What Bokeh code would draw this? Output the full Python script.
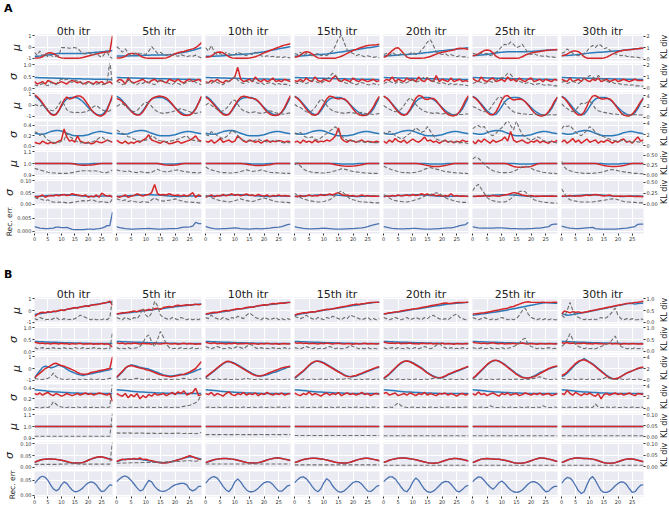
from bokeh.plotting import figure
from bokeh.layouts import gridplot, column, row
from bokeh.models import Range1d, LinearAxis, FixedTicker, Div, PrintfTickFormatter
from bokeh.embed import file_html
from bokeh.resources import INLINE

ITERS = ["0th itr", "5th itr", "10th itr", "15th itr", "20th itr", "25th itr", "30th itr"]
X = list(range(30))
XTICKS = [0, 5, 10, 15, 20, 25]
ROW_LABELS = ["μ", "σ", "μ", "σ", "μ", "σ", "Rec. err."]
RIGHT_LABEL = "KL div"

# ---------------- Panel A ----------------
A1_BLUE = [
 [-.8,-.8,-.79,-.77,-.74,-.7,-.66,-.62,-.59,-.57,-.56,-.55,-.55,-.55,-.56,-.56,-.56,-.56,-.55,-.54,-.52,-.5,-.48,-.45,-.43,-.4,-.38,-.35,-.33,-.3],
 [-.78,-.78,-.78,-.78,-.78,-.77,-.76,-.75,-.74,-.73,-.72,-.71,-.7,-.7,-.7,-.7,-.7,-.69,-.67,-.64,-.6,-.55,-.5,-.45,-.4,-.34,-.28,-.2,-.12,-.05],
 [-.8,-.8,-.8,-.8,-.79,-.78,-.76,-.74,-.72,-.7,-.68,-.66,-.64,-.62,-.6,-.58,-.55,-.52,-.48,-.44,-.4,-.35,-.3,-.25,-.2,-.15,-.1,-.05,0,.05],
 [-.8,-.79,-.78,-.76,-.74,-.72,-.7,-.68,-.66,-.64,-.62,-.6,-.57,-.54,-.5,-.46,-.42,-.38,-.34,-.3,-.26,-.22,-.18,-.14,-.1,-.06,-.02,.02,.06,.1],
 [-.78,-.77,-.76,-.74,-.72,-.7,-.68,-.66,-.64,-.62,-.6,-.58,-.56,-.53,-.5,-.47,-.44,-.41,-.38,-.35,-.32,-.29,-.26,-.23,-.2,-.17,-.14,-.11,-.08,-.05],
 [-.75,-.74,-.72,-.7,-.67,-.64,-.6,-.56,-.52,-.48,-.45,-.42,-.4,-.4,-.4,-.4,-.4,-.4,-.4,-.39,-.38,-.36,-.34,-.32,-.3,-.28,-.26,-.25,-.24,-.23],
 [-.75,-.74,-.73,-.72,-.7,-.68,-.65,-.62,-.58,-.55,-.52,-.5,-.48,-.46,-.44,-.42,-.4,-.38,-.36,-.34,-.32,-.3,-.27,-.24,-.21,-.18,-.15,-.13,-.11,-.1],
]
A1_RED = [
 [-.95,-.95,-.93,-.85,-.65,-.52,-.5,-.55,-.7,-.88,-.95,-.97,-.97,-.97,-.97,-.97,-.97,-.96,-.92,-.85,-.78,-.72,-.66,-.6,-.55,-.5,-.45,-.42,-.4,1.0],
 [-.95,-.95,-.92,-.8,-.62,-.55,-.55,-.6,-.75,-.9,-.96,-.97,-.97,-.97,-.97,-.97,-.97,-.95,-.85,-.7,-.58,-.5,-.42,-.38,-.3,-.22,-.15,-.05,.15,.4],
 [-.9,-.88,-.8,-.6,-.45,-.42,-.5,-.65,-.85,-.95,-.97,-.97,-.97,-.97,-.97,-.96,-.92,-.85,-.75,-.62,-.5,-.4,-.3,-.2,-.1,0,.1,.18,.24,.3],
 [-.9,-.85,-.7,-.5,-.4,-.45,-.6,-.8,-.95,-.97,-.97,-.97,-.97,-.97,-.97,-.9,-.8,-.68,-.55,-.42,-.3,-.2,-.1,0,.08,.14,.18,.2,.22,.25],
 [-.9,-.8,-.55,-.3,-.1,-.05,-.3,-.6,-.88,-.97,-.97,-.97,-.97,-.97,-.95,-.9,-.82,-.72,-.62,-.52,-.45,-.4,-.35,-.3,-.25,-.15,-.1,-.12,-.15,-.2],
 [-.75,-.72,-.6,-.45,-.3,-.25,-.3,-.5,-.8,-.95,-.98,-.98,-.98,-.98,-.98,-.98,-.95,-.85,-.7,-.6,-.52,-.46,-.42,-.38,-.34,-.3,-.27,-.24,-.22,-.2],
 [-.75,-.72,-.62,-.45,-.35,-.33,-.4,-.6,-.85,-.97,-.98,-.98,-.98,-.98,-.98,-.96,-.88,-.75,-.62,-.5,-.4,-.33,-.28,-.25,-.22,-.2,-.17,-.13,-.1,-.1],
]
A1_KL = [
 [.6,.35,.7,.3,.5,.2,.35,.2,.25,.3,1.0,1.0,1.0,.95,1.0,1.0,.95,.7,.5,.45,.6,.45,.35,.55,.3,.15,.45,.6,.2,.05],
 [1.1,.9,.6,.9,.5,.3,.4,.6,.45,.5,.4,.7,1.1,.8,.5,.6,.4,.3,.5,.35,.3,.25,.4,.3,.2,.3,.25,.35,.2,.1],
 [1.0,.7,1.2,.6,.4,.5,.3,.6,.5,.3,.4,.6,.5,.4,.3,.5,.4,.6,.5,.3,.2,.3,.2,.25,.15,.2,.1,.2,.15,.1],
 [.5,.4,.6,.3,.5,.4,.3,.4,.5,.3,.4,.3,.5,.7,1.2,1.8,2.1,1.4,.8,.6,.5,.3,.4,.3,.2,.3,.2,.15,.2,.1],
 [.4,.5,.3,.6,.4,.3,.5,.4,.3,.5,.6,.4,.5,.8,1.1,1.5,1.7,1.2,.6,.5,.4,.5,.3,.4,.3,.2,.3,.2,.2,.1],
 [.5,.45,.4,.5,.45,.5,.3,.4,.6,.8,1.1,1.3,1.2,1.5,1.3,1.0,1.1,1.3,.9,.5,.4,.5,.35,.3,.25,.3,.2,.2,.15,.15],
 [.5,.6,.9,.7,.5,.4,.3,.4,.5,.7,1.0,1.2,1.0,1.3,1.2,.9,1.0,.8,.6,.45,.4,.3,.35,.25,.2,.2,.15,.15,.1,.1],
]
A2_BLUE = [.47,.47,.46,.46,.46,.45,.45,.45,.44,.44,.44,.43,.43,.43,.42,.42,.42,.42,.41,.41,.41,.41,.4,.4,.4,.4,.4,.39,.39,.39]
A2_RED = [
 [.3,.2,.25,.3,.2,.35,.3,.25,.2,.25,.3,.25,.2,.3,.35,.3,.25,.3,.2,.25,.3,.25,.2,.3,.25,.3,.2,.25,.3,.2],
 [.3,.4,.35,.2,.45,.3,.25,.3,.35,.4,.3,.25,.35,.4,.3,.35,.3,.25,.4,.35,.3,.4,.3,.25,.35,.4,.3,.35,.4,.3],
 [.3,.25,.35,.3,.4,.3,.25,.35,.3,.4,.5,.9,.4,.3,.35,.4,.3,.5,.35,.3,.4,.3,.35,.45,.3,.35,.3,.4,.35,.3],
 [.35,.3,.4,.3,.45,.35,.3,.5,.35,.3,.4,.35,.3,.45,.55,.35,.3,.4,.35,.3,.45,.35,.3,.4,.35,.3,.35,.4,.3,.35],
 [.3,.4,.35,.5,.3,.4,.35,.3,.45,.35,.4,.3,.5,.35,.3,.45,.35,.3,.55,.3,.4,.35,.3,.45,.3,.35,.4,.3,.35,.3],
 [.45,.35,.3,.5,.35,.3,.4,.45,.3,.35,.4,.3,.5,.35,.4,.3,.45,.35,.3,.4,.45,.3,.35,.4,.3,.4,.35,.3,.4,.35],
 [.4,.35,.3,.45,.3,.35,.4,.3,.45,.35,.3,.4,.35,.45,.3,.35,.4,.3,.35,.4,.3,.35,.4,.35,.3,.35,.4,.35,.35,.35],
]
A2_KL = [
 [.3,.2,.3,.4,.3,.2,.5,.4,.3,.6,.8,.7,.8,.6,.5,.7,.6,.5,.4,.3,.5,.4,.3,.35,.4,.3,.35,.5,2.3,.3],
 [.6,.5,.3,.4,.7,.5,.4,.3,.5,.4,.6,.5,.4,.3,.5,.8,.6,.5,.4,.3,.5,.4,.3,.4,.5,.6,.7,.5,.4,.3],
 [.4,.5,.4,.6,.5,.4,.3,.5,.6,.8,1.0,.7,.5,.4,.6,.5,.7,.5,.4,.5,.3,.4,.5,.4,.3,.4,.3,.35,.3,.2],
 [.5,.4,.6,.5,.4,.5,.7,.6,.5,.4,.6,.8,1.0,1.3,1.1,.8,.6,.5,.4,.5,.4,.3,.4,.5,.4,.3,.3,.4,.3,.3],
 [.4,.5,.6,.5,.4,.6,.5,.4,.5,.6,.7,.5,.6,.8,1.0,.9,.7,.6,.5,.4,.5,.4,.3,.4,.3,.35,.3,.3,.25,.2],
 [.4,.5,.6,.5,.4,.5,.6,.5,.7,.8,.9,1.0,1.3,1.2,.9,.7,.6,.5,.4,.5,.4,.3,.35,.4,.3,.25,.3,.25,.2,.2],
 [.5,.6,.4,.5,.6,.5,.4,.6,.8,.9,1.1,1.0,.8,1.1,.9,.7,.6,.5,.5,.4,.4,.35,.3,.3,.25,.3,.2,.2,.2,.15],
]
A3_BLUE = [.8,.65,.4,.1,-.2,-.5,-.72,-.85,-.8,-.5,-.1,.3,.55,.65,.68,.68,.65,.5,.3,.05,-.2,-.45,-.65,-.8,-.88,-.85,-.65,-.3,.2,.7]
A3_RED = [
 [.9,.75,.5,.2,-.15,-.5,-.78,-.9,-.82,-.5,0,.45,.72,.55,.6,.75,.82,.8,.65,.35,0,-.35,-.65,-.85,-.95,-.95,-.8,-.45,.2,.9],
 [.6,.5,.3,.05,-.25,-.55,-.78,-.88,-.85,-.6,-.2,.25,.55,.7,.78,.8,.75,.62,.4,.1,-.25,-.55,-.78,-.9,-.92,-.88,-.7,-.35,.2,.8],
 [.7,.55,.3,0,-.3,-.6,-.82,-.9,-.8,-.45,0,.4,.7,.8,.75,.65,.6,.55,.35,.05,-.3,-.6,-.8,-.9,-.92,-.85,-.6,-.2,.35,.85],
 [.75,.6,.35,0,-.35,-.65,-.85,-.9,-.75,-.35,.1,.55,.8,.75,.6,.55,.6,.55,.35,0,-.35,-.65,-.85,-.92,-.92,-.8,-.5,-.1,.4,.8],
 [.8,.65,.4,.05,-.3,-.6,-.82,-.9,-.78,-.4,.1,.6,.85,.8,.55,.5,.6,.6,.4,.05,-.3,-.6,-.82,-.92,-.95,-.85,-.55,-.1,.45,.85],
 [.75,.6,.35,0,-.35,-.65,-.85,-.85,-.6,-.1,.45,.8,.85,.6,.45,.5,.55,.5,.3,0,-.35,-.65,-.85,-.95,-.95,-.85,-.55,-.15,.35,.7],
 [.75,.6,.3,-.05,-.4,-.7,-.88,-.88,-.6,-.1,.45,.8,.85,.7,.55,.55,.6,.55,.35,0,-.35,-.65,-.88,-.95,-.95,-.8,-.5,-.1,.3,.6],
]
A3_KL = [
 [2.4,2.2,2.0,2.3,1.8,1.5,1.3,1.2,1.6,2.4,3.0,2.4,1.4,1.0,.9,.8,.9,.8,.9,1.0,1.2,1.6,2.0,2.2,1.8,1.4,1.2,1.0,1.2,1.6],
 [2.0,2.3,2.5,2.1,1.6,1.2,1.0,1.2,1.8,2.4,2.8,2.6,2.0,1.4,1.0,.8,.7,.8,.9,1.0,1.2,1.4,1.6,1.4,1.2,1.0,.8,.7,.8,1.0],
 [2.2,2.6,2.2,1.8,1.4,1.0,1.2,1.6,2.2,3.0,3.2,2.4,1.6,1.2,1.0,.8,.9,1.0,.8,.7,.8,1.0,1.2,1.0,.8,.7,.6,.6,.7,.8],
 [2.4,2.0,1.8,1.4,1.0,.9,1.2,1.8,2.6,3.4,3.0,2.2,1.6,1.2,1.0,.9,.8,.7,.8,.9,.8,.7,.8,.9,.7,.6,.6,.5,.6,.7],
 [2.2,1.8,1.5,1.2,1.0,1.1,1.5,2.2,3.0,3.6,3.2,2.4,1.8,1.4,1.1,.9,.8,.7,.8,.7,.6,.7,.8,.6,.5,.6,.5,.5,.6,.6],
 [2.0,1.8,1.5,1.2,1.0,1.1,1.6,2.4,3.2,3.8,3.6,2.6,2.0,1.4,1.0,.8,.7,.6,.6,.5,.5,.6,.5,.4,.5,.4,.4,.5,.4,.5],
 [2.5,2.0,1.6,1.2,1.0,1.3,2.0,2.6,2.4,2.8,3.0,2.4,1.6,1.2,1.0,.9,.8,.7,.6,.6,.5,.5,.6,.5,.4,.4,.5,.4,.4,.4],
]
A4_BLUE = [.25,.24,.23,.23,.24,.26,.28,.29,.3,.3,.29,.27,.25,.23,.21,.2,.2,.2,.2,.21,.22,.24,.26,.27,.28,.28,.27,.26,.25,.24]
A4_RED = [
 [.08,.06,.05,.1,.07,.05,.08,.06,.07,.1,.12,.33,.18,.1,.12,.08,.2,.1,.08,.06,.08,.05,.06,.1,.08,.07,.09,.12,.1,.08],
 [.12,.08,.06,.1,.05,.08,.06,.1,.08,.12,.15,.22,.12,.1,.08,.06,.1,.08,.05,.06,.08,.1,.06,.08,.1,.12,.15,.2,.12,.1],
 [.1,.08,.12,.06,.1,.15,.08,.1,.12,.08,.1,.2,.15,.1,.08,.12,.1,.08,.1,.06,.1,.12,.08,.1,.09,.11,.1,.08,.1,.09],
 [.08,.1,.06,.12,.08,.1,.07,.12,.08,.1,.09,.12,.1,.14,.2,.35,.15,.1,.08,.12,.1,.08,.1,.12,.08,.1,.09,.08,.1,.08],
 [.1,.06,.12,.08,.15,.1,.08,.12,.06,.1,.14,.1,.08,.12,.18,.1,.12,.08,.1,.06,.09,.12,.08,.1,.07,.1,.08,.12,.09,.1],
 [.1,.05,.12,.08,.14,.1,.06,.12,.08,.1,.12,.18,.1,.28,.12,.08,.1,.12,.08,.06,.1,.08,.12,.07,.1,.08,.06,.1,.08,.12],
 [.08,.12,.06,.1,.15,.08,.12,.06,.1,.14,.08,.1,.12,.06,.1,.08,.12,.1,.06,.1,.08,.12,.14,.08,.1,.06,.12,.18,.1,.12],
]
A4_KL = [
 [2.5,2.3,1.8,2.2,1.5,1.0,.8,.6,.5,.6,.8,1.0,2.2,1.6,1.4,1.0,.7,.5,.6,.4,.5,.6,.8,1.0,1.4,1.6,1.2,1.0,.8,.6],
 [2.8,2.5,2.2,2.0,1.6,1.5,1.2,1.0,.8,.9,1.0,1.2,1.8,1.5,1.0,.9,.8,.7,.8,.9,1.0,1.2,1.4,1.6,1.8,1.2,1.0,.9,.8,.7],
 [2.0,1.8,2.5,2.2,1.8,1.5,1.2,1.6,2.0,2.8,2.4,1.8,1.2,1.0,.8,.9,.8,1.0,1.2,.9,.8,.7,.8,.9,1.0,.8,.6,.5,.6,.5],
 [2.2,2.0,2.4,1.8,1.5,1.4,1.6,1.2,1.0,1.4,1.8,2.2,2.6,3.0,3.4,2.6,1.8,1.2,1.0,.8,.9,.8,.7,.8,.6,.7,.6,.5,.6,.5],
 [2.4,2.0,2.6,2.2,1.8,1.5,1.2,1.4,1.8,2.2,2.6,3.2,2.8,2.4,2.6,3.4,2.6,1.8,1.2,1.0,.8,.9,.7,.8,.6,.7,.5,.6,.5,.4],
 [3.0,3.4,3.6,3.2,3.4,2.6,2.0,1.8,2.2,2.8,3.2,3.8,4.6,3.6,2.8,4.4,3.0,2.0,1.6,1.2,1.0,1.2,1.6,1.4,1.0,.8,.7,.8,.6,.5],
 [3.0,3.6,3.4,3.6,3.0,2.4,2.0,1.8,2.2,2.8,3.4,3.0,2.4,2.0,1.8,1.6,1.4,1.2,1.0,.9,.8,.9,1.0,.8,.7,.6,.8,.7,.6,.5],
]
A5_BLUE = [1,1,1,1,1,1,1,1,1,1,1,1,1,1,1,.998,.996,.995,.995,.995,.996,.998,1,1,1,1,1,1,1,1]
A5_RED = [
 [1,1,1,1,1,1,1,1,1,1,1,1,1,1,.998,.995,.99,.987,.985,.985,.986,.988,.99,.994,.998,1,1,1,1,1],
 [1,1,1,1,1,1,1,1,1,1,1,1,1,1,1,.995,.99,.986,.985,.985,.987,.99,.995,1,1,1,1,1,1,1],
 [1,1,1,1,1,1,1,1,1,1,1,1,1,.998,.994,.99,.986,.983,.982,.982,.984,.987,.99,.995,1,1,1,1,1,1],
 [1,1,1,1,1,1,1,1,1,1,1,1,1,.996,.99,.984,.98,.978,.977,.977,.978,.98,.984,.99,.996,1,1,1,1,1],
 [1,1,1,1,1,1,1,1,1,1,1,1,.998,.994,.988,.982,.978,.975,.974,.975,.978,.982,.988,.994,1,1,1,1,1,1],
 [1,1,1,1,1,1,1,1,1,1,1,1,.995,.985,.975,.97,.968,.968,.97,.972,.975,.985,.995,1,1,1,1,1,1,1],
 [1,1,1,1,1,1,1,1,1,1,1,1,1,.995,.988,.982,.978,.976,.975,.975,.976,.978,.982,.988,.995,1,1,1,1,1],
]
A5_KL = [
 [.16,.14,.12,.1,.08,.06,.05,.04,.04,.03,.03,.03,.03,.04,.05,.06,.08,.09,.1,.1,.1,.09,.1,.09,.08,.06,.05,.05,.08,.12],
 [.12,.1,.09,.08,.1,.07,.06,.05,.08,.06,.05,.05,.06,.1,.14,.1,.08,.07,.08,.1,.11,.12,.1,.08,.07,.06,.05,.05,.04,.06],
 [.2,.15,.12,.1,.08,.06,.05,.05,.04,.04,.05,.06,.08,.1,.12,.1,.08,.09,.1,.12,.1,.08,.06,.05,.05,.04,.04,.03,.03,.03],
 [.25,.3,.22,.15,.1,.08,.06,.05,.05,.04,.04,.05,.06,.08,.1,.12,.15,.14,.12,.1,.08,.07,.06,.05,.04,.04,.03,.03,.03,.02],
 [.22,.18,.15,.12,.1,.08,.06,.05,.05,.04,.05,.06,.08,.1,.14,.16,.18,.16,.14,.12,.1,.08,.07,.06,.05,.04,.04,.03,.03,.02],
 [.4,.45,.42,.35,.28,.2,.14,.1,.08,.06,.05,.05,.05,.06,.08,.12,.16,.2,.22,.2,.16,.12,.1,.08,.06,.05,.04,.03,.03,.02],
 [.34,.2,.12,.1,.08,.06,.05,.04,.03,.03,.03,.03,.04,.05,.06,.08,.1,.12,.13,.12,.1,.08,.07,.06,.05,.04,.03,.03,.02,.02],
]
A6_BLUE = [.033,.034,.035,.036,.037,.038,.038,.039,.04,.04,.041,.041,.041,.04,.04,.039,.038,.037,.036,.035,.034,.033,.033,.034,.035,.036,.036,.036,.035,.035]
A6_RED = [
 [.035,.03,.035,.04,.03,.035,.038,.035,.04,.037,.04,.042,.038,.04,.045,.042,.04,.038,.036,.04,.03,.035,.032,.04,.03,.048,.04,.035,.038,.03],
 [.035,.03,.035,.04,.03,.035,.038,.045,.04,.035,.04,.042,.05,.085,.045,.04,.042,.04,.045,.04,.038,.04,.035,.04,.035,.04,.05,.03,.04,.035],
 [.03,.035,.04,.032,.038,.035,.042,.036,.04,.045,.038,.042,.036,.04,.044,.038,.04,.036,.042,.038,.035,.04,.033,.038,.036,.04,.035,.038,.036,.034],
 [.035,.032,.038,.034,.036,.04,.035,.038,.036,.042,.038,.04,.044,.04,.046,.05,.042,.038,.04,.036,.038,.034,.036,.04,.035,.038,.034,.036,.035,.034],
 [.032,.036,.034,.038,.035,.04,.036,.038,.04,.036,.042,.038,.04,.045,.04,.044,.038,.042,.036,.04,.034,.038,.035,.045,.035,.038,.034,.036,.035,.033],
 [.035,.033,.036,.034,.038,.036,.035,.038,.036,.034,.038,.04,.042,.046,.05,.048,.044,.04,.038,.036,.038,.035,.036,.034,.036,.035,.034,.036,.035,.034],
 [.036,.034,.035,.038,.036,.035,.037,.036,.038,.04,.038,.04,.042,.04,.038,.036,.038,.04,.036,.034,.035,.036,.034,.035,.036,.034,.033,.034,.033,.032],
]
A6_KL = [
 [.15,.13,.12,.1,.08,.1,.06,.05,.04,.05,.04,.04,.03,.03,.04,.05,.06,.07,.08,.07,.08,.1,.09,.06,.05,.06,.05,.04,.03,.12],
 [.12,.1,.08,.1,.06,.08,.06,.05,.04,.06,.05,.04,.1,.14,.1,.08,.07,.08,.09,.1,.12,.1,.08,.06,.05,.05,.04,.04,.03,.03],
 [.2,.18,.15,.12,.1,.08,.07,.06,.05,.06,.08,.1,.12,.1,.08,.07,.06,.08,.1,.12,.14,.12,.1,.08,.06,.05,.05,.04,.04,.03],
 [.25,.2,.15,.12,.1,.08,.07,.06,.05,.05,.06,.08,.1,.14,.2,.26,.3,.24,.18,.12,.1,.08,.06,.05,.05,.04,.04,.03,.03,.03],
 [.22,.18,.14,.1,.08,.07,.06,.05,.05,.06,.08,.1,.12,.15,.18,.2,.22,.24,.26,.25,.2,.15,.12,.1,.08,.06,.05,.04,.04,.03],
 [.3,.4,.45,.35,.25,.15,.1,.08,.06,.05,.05,.05,.08,.12,.18,.24,.28,.3,.28,.22,.15,.1,.08,.06,.05,.04,.03,.03,.02,.02],
 [.35,.25,.15,.1,.08,.07,.06,.05,.05,.05,.05,.05,.06,.07,.08,.09,.1,.11,.12,.12,.1,.08,.06,.05,.05,.04,.04,.03,.03,.03],
]
A7_REC = [
 [.0018,.0015,.0012,.0011,.001,.001,.0011,.0012,.0016,.0016,.0014,.0014,.0015,.0011,.0007,.0006,.0006,.0006,.0006,.0007,.0008,.0008,.0007,.0009,.001,.0012,.0016,.0022,.0022,.0075],
 [.0018,.0014,.0012,.001,.0009,.0008,.0008,.0009,.0009,.001,.001,.0011,.001,.0009,.0008,.0008,.0009,.0009,.001,.001,.001,.0011,.0014,.0016,.0016,.0017,.002,.0035,.003,.003],
 [.0019,.0015,.0012,.001,.0009,.0009,.001,.001,.0011,.0012,.0013,.0012,.001,.0009,.0009,.0008,.0009,.001,.001,.0009,.001,.0011,.0012,.0014,.0015,.0016,.0018,.0022,.0026,.0028],
 [.0018,.0015,.0013,.0011,.001,.0009,.0009,.001,.001,.0011,.0012,.0011,.001,.0009,.0008,.0008,.0008,.0009,.0009,.001,.001,.0011,.0012,.0013,.0015,.0018,.0022,.0025,.0028,.003],
 [.0018,.0016,.0013,.0011,.001,.0009,.0009,.0009,.001,.001,.0011,.0011,.001,.0009,.0008,.0008,.0008,.0009,.0009,.001,.0011,.0012,.0013,.0013,.0015,.0018,.0022,.0024,.0026,.0035],
 [.0018,.0015,.0013,.0012,.0012,.0012,.0012,.0012,.0013,.0013,.0013,.0012,.0011,.001,.001,.001,.0009,.0009,.0009,.001,.001,.0011,.0012,.0012,.0014,.0016,.0018,.0026,.0028,.0028],
 [.002,.0017,.0014,.0012,.0011,.001,.001,.0011,.0012,.0013,.0014,.0015,.001,.0009,.0008,.0008,.0008,.0008,.0008,.0008,.0009,.001,.0011,.0012,.0014,.0016,.0018,.0027,.0028,.0028],
]

# ---------------- Panel B ----------------
B1_BLUE = [
 [-.35,-.31,-.27,-.24,-.2,-.17,-.14,-.1,-.06,-.03,.01,.05,.09,.13,.17,.21,.25,.29,.33,.37,.41,.45,.49,.53,.57,.61,.64,.68,.71,.74],
 [-.3,-.28,-.25,-.22,-.2,-.17,-.14,-.1,-.07,-.04,-.01,.02,.05,.08,.12,.15,.18,.22,.25,.28,.32,.35,.38,.41,.44,.47,.5,.52,.54,.55],
 [-.35,-.3,-.26,-.22,-.18,-.14,-.1,-.06,-.02,.02,.06,.1,.14,.18,.22,.26,.3,.34,.38,.42,.45,.48,.51,.54,.57,.6,.63,.66,.68,.7],
 [-.4,-.36,-.31,-.27,-.22,-.18,-.14,-.1,-.06,-.02,.02,.06,.1,.14,.18,.22,.26,.3,.34,.38,.42,.46,.5,.54,.58,.62,.65,.68,.7,.72],
 [-.3,-.27,-.23,-.2,-.16,-.12,-.08,-.04,0,.04,.08,.12,.16,.2,.24,.28,.32,.36,.4,.44,.48,.52,.55,.58,.61,.63,.65,.67,.68,.7],
 [-.4,-.37,-.34,-.31,-.27,-.24,-.2,-.16,-.12,-.08,-.04,0,.05,.1,.15,.2,.25,.3,.35,.4,.45,.5,.55,.6,.64,.66,.67,.65,.63,.62],
 [-.25,-.35,-.4,-.38,-.35,-.3,-.26,-.22,-.18,-.13,-.08,-.03,.02,.07,.12,.17,.22,.27,.32,.37,.42,.47,.52,.57,.62,.6,.55,.6,.62,.65],
]
B1_RED = [
 [-.5,-.35,-.2,-.15,-.2,-.1,-.15,-.05,-.1,0,.05,0,.1,.15,.2,.25,.2,.3,.35,.4,.35,.45,.5,.5,.55,.6,.65,.7,.8,.45],
 [-.3,-.25,-.2,-.2,-.15,-.1,-.05,-.1,0,.05,0,.1,.05,.15,.2,.1,.25,.3,.35,.3,.4,.45,.4,.45,.5,.45,.5,.55,.5,.55],
 [-.3,-.25,-.2,-.15,-.18,-.1,-.05,0,-.02,.05,.1,.15,.12,.2,.25,.3,.28,.35,.4,.45,.5,.48,.55,.6,.58,.62,.65,.62,.68,.7],
 [-.4,-.3,-.25,-.2,-.2,-.15,-.1,-.12,-.05,0,.05,.1,.08,.15,.2,.25,.3,.35,.38,.45,.5,.55,.52,.58,.6,.65,.68,.7,.72,.7],
 [-.3,-.25,-.2,-.18,-.12,-.1,-.05,0,.05,.08,.12,.15,.2,.25,.3,.35,.4,.45,.5,.55,.6,.65,.62,.6,.65,.68,.7,.68,.7,.72],
 [-.3,-.28,-.25,-.22,-.2,-.15,-.1,-.05,0,.05,.1,.15,.2,.3,.35,.45,.55,.65,.72,.75,.72,.7,.68,.7,.72,.7,.68,.7,.72,.7],
 [-.3,-.05,-.1,-.2,-.1,-.15,-.12,-.2,-.15,-.1,-.05,0,.05,.1,.15,.2,.25,.3,.35,.4,.45,.5,.55,.6,.62,.65,.7,.72,.75,.8],
]
B1_KL = [
 [.15,.1,.2,.15,.1,.12,.1,.15,.2,.12,.1,.15,.1,.12,.1,.15,.2,.3,.25,.2,.15,.1,.15,.1,.12,.1,.15,.1,.2,1.0],
 [.2,.15,.1,.2,.15,.1,.2,.15,.3,.6,.3,.2,.4,.9,.7,.3,.2,.15,.1,.2,.15,.1,.2,.15,.1,.15,.1,.15,.1,.2],
 [.2,.15,.3,.2,.15,.1,.2,.15,.1,.2,.15,.25,.2,.15,.3,.4,.3,.2,.15,.1,.2,.15,.1,.15,.2,.1,.15,.1,.15,.1],
 [.25,.2,.15,.2,.3,.2,.15,.1,.2,.15,.1,.2,.15,.25,.2,.15,.1,.2,.15,.3,.25,.2,.15,.1,.15,.2,.1,.15,.1,.15],
 [.2,.15,.1,.15,.2,.15,.1,.15,.2,.1,.15,.2,.15,.1,.2,.15,.25,.3,.2,.15,.1,.15,.1,.2,.3,.35,.2,.15,.1,.15],
 [.2,.15,.1,.15,.2,.15,.1,.15,.1,.15,.2,.15,.1,.15,.1,.15,.3,.5,.6,.35,.2,.15,.1,.15,.1,.15,.1,.15,.1,.1],
 [.3,.2,.5,.85,.5,.3,.2,.15,.1,.15,.1,.15,.1,.15,.2,.15,.2,.3,.45,.6,.3,.15,.1,.15,.1,.15,.1,.1,.15,.1],
]
B2_BLUE = [.43,.43,.42,.42,.41,.41,.4,.4,.4,.39,.39,.38,.38,.38,.37,.37,.37,.36,.36,.36,.36,.35,.35,.35,.35,.35,.35,.35,.35,.35]
B2_RED = [
 [.4,.38,.35,.37,.34,.36,.33,.36,.35,.33,.36,.34,.35,.32,.35,.33,.34,.36,.32,.34,.33,.35,.32,.34,.33,.35,.32,.34,.3,.2],
 [.38,.35,.37,.33,.36,.34,.37,.35,.33,.36,.34,.35,.32,.36,.34,.33,.35,.36,.34,.33,.35,.32,.34,.36,.33,.35,.34,.32,.34,.33],
 [.4,.37,.35,.38,.34,.36,.35,.33,.36,.34,.37,.33,.35,.34,.36,.33,.35,.34,.32,.35,.33,.36,.34,.33,.35,.32,.34,.35,.33,.34],
 [.39,.36,.38,.35,.37,.34,.36,.35,.33,.36,.34,.37,.35,.33,.35,.36,.34,.33,.35,.34,.32,.35,.33,.34,.36,.33,.35,.34,.33,.35],
 [.41,.38,.36,.37,.35,.38,.34,.36,.35,.37,.34,.35,.33,.36,.35,.34,.36,.33,.35,.34,.36,.33,.35,.34,.32,.35,.34,.33,.35,.34],
 [.4,.38,.37,.35,.37,.34,.36,.38,.35,.34,.36,.33,.35,.34,.36,.33,.35,.37,.34,.33,.35,.34,.32,.35,.34,.33,.35,.34,.33,.34],
 [.38,.36,.39,.35,.37,.34,.36,.35,.37,.34,.35,.33,.36,.34,.35,.33,.34,.36,.33,.35,.34,.32,.35,.34,.33,.35,.34,.33,.34,.33],
]
B2_KL = [
 [.15,.1,.12,.15,.1,.12,.1,.15,.1,.12,.1,.15,.1,.12,.1,.15,.12,.1,.15,.1,.12,.1,.15,.1,.12,.1,.1,.12,.1,.8],
 [.15,.1,.12,.1,.15,.1,.12,.15,.2,.35,.6,.7,.4,.2,.5,.85,.6,.3,.15,.1,.12,.1,.15,.1,.12,.1,.15,.1,.12,.1],
 [.2,.15,.1,.15,.2,.15,.1,.12,.15,.1,.15,.2,.15,.1,.2,.3,.25,.15,.1,.15,.1,.12,.1,.15,.1,.12,.1,.15,.1,.12],
 [.15,.12,.1,.15,.2,.15,.1,.15,.1,.12,.1,.15,.2,.15,.1,.15,.1,.12,.15,.25,.2,.15,.1,.12,.1,.15,.1,.12,.1,.1],
 [.15,.1,.12,.15,.1,.15,.12,.1,.15,.1,.12,.15,.1,.15,.2,.15,.1,.15,.25,.35,.2,.15,.1,.15,.1,.12,.1,.15,.1,.12],
 [.15,.12,.1,.15,.1,.12,.15,.1,.12,.1,.15,.1,.12,.15,.2,.25,.35,.5,.55,.3,.2,.15,.1,.15,.1,.12,.15,.1,.12,.1],
 [.2,.3,.5,.75,.5,.3,.2,.15,.1,.15,.1,.12,.1,.15,.2,.25,.3,.35,.5,.65,.35,.2,.15,.1,.12,.1,.15,.1,.12,.1],
]
B3_BLUE = [
 [-.8,-.5,-.2,.1,.2,.15,.05,.1,.2,.3,.2,.1,-.05,-.2,-.3,-.4,-.5,-.55,-.6,-.55,-.5,-.45,-.4,-.35,-.3,-.25,-.2,-.15,-.1,0],
 [-.8,-.55,-.3,0,.2,.3,.25,.2,.1,.05,0,-.05,-.15,-.25,-.35,-.45,-.55,-.6,-.65,-.65,-.6,-.55,-.5,-.55,-.5,-.4,-.3,-.2,-.1,0],
 [-.8,-.6,-.4,-.2,0,.2,.4,.55,.6,.55,.45,.3,.15,0,-.15,-.3,-.45,-.55,-.65,-.65,-.6,-.55,-.45,-.35,-.3,-.2,-.1,0,.1,.15],
 [-.85,-.65,-.45,-.25,0,.25,.45,.6,.65,.6,.5,.35,.2,.05,-.1,-.25,-.4,-.55,-.65,-.7,-.7,-.65,-.55,-.45,-.35,-.25,-.15,-.05,.05,.1],
 [-.9,-.7,-.5,-.25,0,.25,.45,.6,.65,.6,.5,.35,.2,.05,-.15,-.35,-.5,-.65,-.75,-.8,-.8,-.7,-.55,-.45,-.35,-.25,-.15,-.05,.05,.15],
 [-.9,-.7,-.45,-.2,.05,.3,.5,.65,.7,.65,.5,.35,.15,-.05,-.25,-.45,-.6,-.75,-.8,-.82,-.75,-.65,-.5,-.35,-.25,-.15,-.05,.05,.12,.2],
 [-.7,-.6,-.4,-.15,.1,.35,.55,.7,.85,.7,.55,.4,.2,0,-.2,-.4,-.6,-.75,-.88,-.9,-.85,-.7,-.55,-.4,-.3,-.2,-.1,0,.05,.1],
]
B3_RED = [
 [-.8,-.6,-.4,-.2,0,.1,.25,.4,.45,.35,.25,.2,.1,0,-.1,-.2,-.35,-.45,-.5,-.5,-.45,-.35,-.3,-.25,-.2,-.15,-.1,-.05,0,1.0],
 [-.75,-.5,-.25,.05,.2,.25,.2,.1,.05,0,-.1,-.15,-.25,-.35,-.45,-.55,-.6,-.65,-.7,-.7,-.65,-.6,-.55,-.5,-.4,-.3,-.15,0,.3,.6],
 [-.75,-.55,-.35,-.15,.05,.25,.45,.6,.62,.5,.4,.25,.1,-.05,-.2,-.35,-.5,-.6,-.65,-.62,-.55,-.45,-.35,-.25,-.15,-.05,.05,.1,.15,.2],
 [-.8,-.6,-.4,-.2,.05,.3,.5,.62,.62,.55,.45,.3,.15,0,-.15,-.3,-.45,-.6,-.68,-.7,-.65,-.6,-.5,-.4,-.3,-.2,-.1,0,.1,.15],
 [-.85,-.65,-.45,-.2,.05,.3,.5,.62,.65,.58,.45,.3,.15,0,-.2,-.4,-.55,-.7,-.78,-.8,-.75,-.65,-.5,-.4,-.3,-.2,-.1,0,.1,.2],
 [-.85,-.65,-.4,-.15,.1,.35,.55,.68,.72,.62,.48,.3,.1,-.1,-.3,-.5,-.65,-.78,-.82,-.82,-.78,-.7,-.6,-.45,-.3,-.15,0,.1,.18,.22],
 [-.6,-.5,-.3,-.05,.2,.45,.62,.72,.75,.65,.5,.35,.15,-.05,-.25,-.45,-.65,-.8,-.88,-.88,-.82,-.7,-.55,-.4,-.3,-.2,-.1,0,.08,.1],
]
B3_KL = [
 [.3,.2,.1,.1,.2,.3,.6,1.2,.6,.3,.2,.1,.1,.2,.1,.1,.2,.1,.2,.1,.1,.2,.1,.1,.2,.1,.1,.2,.3,.4],
 [.2,.1,.1,.2,.1,.1,.2,.3,.2,.1,.1,.2,.1,.1,.2,.1,.1,.2,.1,.1,.2,.1,.2,.3,.2,.1,.1,.2,.3,.2],
 [.3,.2,.1,.1,.2,.1,.1,.2,.1,.1,.2,.1,.1,.2,.3,.2,.1,.1,.2,.1,.1,.2,.1,.1,.2,.1,.1,.1,.2,.1],
 [.2,.1,.1,.2,.1,.1,.2,.1,.1,.2,.1,.1,.2,.1,.1,.2,.1,.2,.3,.2,.1,.1,.2,.1,.1,.2,.1,.1,.2,.1],
 [.2,.1,.2,.1,.1,.2,.1,.1,.2,.1,.1,.2,.1,.1,.2,.1,.2,.3,.4,.3,.2,.1,.1,.2,.1,.1,.2,.1,.1,.2],
 [.2,.1,.1,.2,.1,.1,.2,.1,.1,.2,.1,.1,.2,.1,.1,.2,.1,.1,.2,.1,.2,.3,.4,.6,.4,.2,.1,.1,.2,.1],
 [.3,.2,.1,.1,.2,.1,.1,.2,.1,.1,.2,.1,.1,.2,.1,.3,.5,.3,.2,.1,.1,.2,.1,.1,.2,.1,.1,.2,.1,.1],
]
B4_BLUE = [.37,.365,.36,.355,.35,.345,.34,.335,.33,.33,.325,.32,.32,.315,.31,.31,.31,.305,.305,.3,.3,.3,.3,.3,.3,.3,.3,.3,.3,.3]
B4_RED = [
 [.3,.28,.31,.27,.3,.32,.28,.26,.3,.28,.25,.27,.3,.28,.26,.28,.3,.27,.29,.31,.28,.3,.27,.29,.31,.3,.28,.27,.3,.15],
 [.3,.27,.25,.3,.22,.28,.24,.3,.2,.26,.22,.28,.25,.3,.27,.28,.3,.26,.29,.32,.28,.33,.3,.35,.27,.3,.32,.4,.26,.28],
 [.3,.28,.32,.26,.3,.28,.25,.3,.33,.28,.26,.3,.28,.32,.27,.3,.28,.31,.26,.3,.28,.32,.29,.27,.3,.28,.31,.27,.29,.3],
 [.31,.28,.26,.3,.28,.33,.27,.3,.28,.25,.29,.31,.27,.3,.28,.32,.26,.29,.31,.28,.3,.27,.29,.32,.28,.3,.26,.29,.3,.28],
 [.3,.32,.27,.29,.31,.26,.28,.3,.27,.31,.29,.26,.3,.28,.32,.27,.3,.28,.26,.3,.29,.31,.27,.3,.28,.25,.29,.3,.27,.29],
 [.3,.27,.33,.28,.3,.26,.29,.31,.28,.25,.3,.28,.31,.27,.29,.3,.26,.28,.31,.29,.27,.3,.28,.31,.27,.29,.3,.26,.28,.3],
 [.3,.28,.36,.3,.27,.32,.29,.26,.3,.28,.31,.27,.25,.3,.2,.28,.3,.27,.29,.31,.28,.3,.27,.29,.31,.28,.26,.3,.29,.28],
]
B4_KL = [
 [.2,.2,.1,.2,.3,.2,.4,1.2,.8,.4,.3,.2,.2,.3,.2,.2,.3,.2,.2,.3,.2,.2,.3,.2,.2,.3,.2,.2,.3,4.5],
 [.2,.2,.3,.2,.2,.3,.2,.2,.3,.2,.2,.3,.2,.2,.3,.2,.2,.3,.2,.2,.3,.2,.3,.4,.5,.6,.8,1.0,1.5,2.4],
 [.2,.3,.2,.2,.3,.2,.2,.3,.2,.2,.3,.2,.2,.3,.2,.2,.3,.2,.2,.3,.2,.2,.3,.2,.2,.3,.2,.2,.3,.2],
 [.3,.2,.2,.3,.2,.2,.3,.2,.2,.3,.2,.2,.3,.2,.2,.3,.2,.2,.3,.2,.2,.3,.2,.2,.3,.2,.2,.3,.2,.2],
 [.2,.2,.3,.2,.6,1.0,.5,.3,.2,.2,.3,.2,.2,.3,.2,.2,.3,.2,.2,.3,.2,.2,.3,.2,.2,.3,.2,.2,.3,.2],
 [.3,.2,.2,.3,.2,.2,.5,.3,.2,.2,.3,.2,.2,.3,.2,.2,.3,.2,.2,.3,.2,.2,.3,.2,.5,.3,.2,.2,.3,.2],
 [.3,.2,.2,.3,.2,.2,.3,.2,.2,.3,.2,.2,.8,.3,.2,.2,.3,.2,.2,.3,.2,.2,.3,.2,.2,.3,.2,.2,.3,.2],
]
B5_BLUE = [1,1,1,1,1,1,1,1,1,1,1,1,1,1,1,1,1,1,1,1,1,1,1,1,1,1,1,1,1,1]
B5_RED = [1,1,1,1,1,1,1,1,1,1,1,1,1,1,1,1,1,1,1,1,1,1,1,1,1,1,1,1,1,1]
B5_KL = [
 [.003,.003,.003,.003,.003,.003,.003,.003,.003,.003,.003,.003,.003,.003,.003,.003,.003,.003,.003,.003,.003,.003,.003,.003,.003,.003,.003,.003,.003,.11],
 [.018,.017,.018,.017,.018,.017,.016,.017,.018,.017,.016,.016,.017,.016,.015,.016,.017,.016,.015,.016,.016,.017,.016,.015,.016,.015,.016,.014,.017,.02],
 [.01,.01,.011,.01,.01,.01,.011,.01,.01,.01,.01,.011,.01,.01,.01,.011,.01,.01,.01,.011,.01,.01,.01,.011,.01,.01,.01,.011,.01,.01],
 [.006,.006,.006,.006,.006,.006,.006,.006,.006,.006,.006,.006,.006,.006,.006,.006,.006,.006,.006,.006,.006,.006,.006,.006,.006,.006,.006,.006,.006,.006],
 [.005,.005,.005,.005,.005,.005,.005,.005,.005,.005,.005,.005,.005,.005,.005,.005,.005,.005,.005,.005,.005,.005,.005,.005,.005,.005,.005,.005,.005,.005],
 [.005,.005,.005,.005,.005,.005,.005,.005,.005,.005,.005,.005,.005,.005,.005,.005,.005,.005,.005,.005,.005,.005,.005,.005,.005,.005,.005,.005,.005,.005],
 [.005,.005,.005,.005,.005,.005,.005,.005,.005,.005,.005,.005,.005,.005,.005,.005,.005,.005,.005,.005,.005,.005,.005,.005,.005,.005,.005,.005,.005,.005],
]
B6_BLUE = [
 [.022,.026,.03,.033,.035,.036,.036,.035,.034,.032,.03,.027,.024,.021,.019,.018,.018,.019,.021,.025,.03,.035,.039,.042,.044,.044,.042,.039,.036,.034],
 [.024,.028,.032,.034,.035,.036,.036,.035,.034,.032,.03,.028,.026,.024,.022,.02,.02,.02,.022,.025,.028,.032,.036,.04,.043,.045,.044,.041,.038,.035],
 [.02,.024,.028,.032,.035,.037,.038,.038,.037,.035,.033,.03,.027,.024,.021,.019,.018,.018,.02,.023,.027,.031,.035,.038,.04,.04,.038,.035,.032,.029],
 [.02,.024,.029,.033,.036,.038,.039,.039,.038,.036,.034,.031,.028,.025,.022,.02,.018,.018,.019,.022,.026,.03,.034,.037,.039,.039,.037,.034,.031,.028],
 [.021,.025,.03,.034,.037,.039,.04,.04,.039,.037,.035,.032,.029,.026,.023,.02,.018,.017,.018,.021,.025,.029,.033,.036,.038,.038,.036,.033,.03,.027],
 [.02,.025,.03,.035,.037,.038,.037,.036,.035,.034,.032,.03,.027,.024,.02,.018,.017,.018,.02,.024,.028,.033,.037,.04,.04,.038,.035,.032,.028,.025],
 [.02,.025,.03,.035,.038,.04,.04,.039,.038,.038,.037,.035,.032,.028,.024,.02,.018,.017,.018,.02,.024,.028,.032,.035,.037,.036,.033,.03,.027,.024],
]
B6_RED = [
 [.022,.026,.03,.033,.035,.036,.036,.035,.034,.032,.03,.028,.025,.022,.02,.019,.018,.019,.021,.025,.03,.035,.04,.043,.045,.044,.042,.038,.035,.03],
 [.025,.03,.035,.032,.036,.034,.038,.035,.04,.033,.035,.03,.028,.025,.022,.02,.019,.02,.022,.025,.028,.032,.035,.04,.045,.05,.045,.04,.035,.033],
 [.02,.025,.029,.033,.035,.037,.038,.038,.037,.035,.033,.03,.027,.024,.021,.019,.018,.018,.02,.023,.027,.031,.035,.038,.04,.04,.038,.035,.032,.029],
 [.02,.024,.029,.033,.036,.038,.039,.039,.038,.036,.034,.031,.028,.025,.022,.02,.018,.018,.019,.022,.026,.03,.034,.037,.039,.039,.037,.034,.031,.028],
 [.021,.025,.03,.034,.037,.039,.04,.04,.039,.037,.035,.032,.029,.026,.023,.02,.018,.017,.018,.021,.025,.029,.033,.036,.038,.038,.036,.033,.03,.027],
 [.02,.025,.03,.035,.037,.038,.037,.036,.035,.034,.032,.03,.027,.024,.02,.018,.017,.018,.02,.024,.028,.033,.037,.04,.04,.038,.035,.032,.028,.025],
 [.02,.025,.03,.035,.038,.04,.04,.039,.038,.038,.037,.035,.032,.028,.024,.02,.018,.017,.018,.02,.024,.028,.032,.035,.037,.036,.033,.03,.027,.024],
]
B6_KL = [
 [.01,.01,.01,.01,.01,.01,.01,.01,.01,.011,.011,.011,.012,.013,.013,.012,.012,.011,.011,.011,.011,.011,.011,.011,.011,.011,.011,.011,.011,.11],
 [.015,.015,.016,.016,.016,.017,.017,.017,.017,.018,.018,.018,.019,.019,.02,.02,.02,.021,.021,.022,.022,.023,.024,.025,.026,.026,.025,.024,.026,.035],
 [.012,.012,.012,.012,.012,.012,.012,.012,.012,.012,.012,.012,.012,.012,.012,.012,.012,.012,.012,.012,.012,.012,.012,.012,.012,.012,.012,.012,.012,.012],
 [.008,.008,.008,.008,.008,.008,.008,.008,.008,.008,.008,.008,.008,.008,.008,.008,.008,.008,.008,.008,.008,.008,.008,.008,.008,.008,.008,.008,.008,.008],
 [.006,.006,.006,.006,.006,.006,.006,.006,.006,.006,.006,.006,.006,.006,.006,.006,.006,.006,.006,.006,.006,.006,.006,.006,.006,.006,.006,.006,.006,.006],
 [.006,.006,.006,.006,.006,.006,.006,.006,.006,.006,.006,.006,.006,.006,.006,.006,.006,.006,.006,.006,.006,.006,.006,.006,.006,.006,.006,.006,.006,.006],
 [.006,.006,.006,.006,.006,.006,.006,.006,.006,.006,.006,.006,.006,.006,.006,.006,.006,.006,.006,.006,.006,.006,.006,.006,.006,.006,.006,.006,.006,.006],
]
B7_REC = [
 [.04,.05,.06,.064,.06,.05,.035,.022,.015,.02,.035,.045,.04,.028,.018,.012,.013,.018,.025,.035,.042,.045,.043,.035,.022,.012,.015,.025,.035,.033],
 [.045,.055,.062,.065,.06,.05,.038,.025,.015,.018,.035,.05,.045,.03,.02,.014,.013,.016,.022,.03,.035,.038,.04,.04,.035,.02,.015,.02,.03,.03],
 [.04,.052,.06,.063,.058,.045,.03,.018,.012,.025,.045,.055,.045,.03,.018,.012,.012,.016,.024,.034,.042,.046,.044,.036,.024,.014,.014,.022,.032,.034],
 [.042,.052,.06,.062,.056,.044,.03,.018,.012,.022,.042,.056,.048,.032,.02,.012,.011,.015,.024,.034,.043,.047,.045,.037,.025,.014,.013,.02,.03,.033],
 [.045,.055,.062,.062,.055,.042,.028,.016,.012,.025,.045,.058,.05,.034,.02,.012,.01,.014,.022,.032,.042,.047,.046,.038,.026,.014,.012,.02,.03,.033],
 [.045,.055,.062,.06,.05,.038,.028,.02,.03,.042,.048,.04,.028,.018,.012,.01,.012,.018,.028,.038,.045,.046,.042,.034,.022,.012,.014,.024,.03,.03],
 [.04,.052,.06,.058,.048,.032,.015,.006,.012,.035,.055,.063,.05,.032,.016,.01,.01,.014,.022,.032,.04,.045,.044,.036,.022,.01,.012,.024,.034,.035],
]

# ---------------- axis settings ----------------
A_LEFT = [(-1.18, 1.12), (-0.03, 1.06), (-1.18, 1.12), (-0.02, 0.47), (0.888, 1.112), (-0.005, 0.106), (-0.0009, 0.0089)]
A_LTICKS = [[-1, 0, 1], [0, 0.5, 1], [-1, 0, 1], [0, 0.2, 0.4], [0.9, 1.0, 1.1], [0, 0.05, 0.1], [0, 0.005]]
A_LFMT = ["%d", "%.1f", "%d", "%.1f", "%.1f", "%.2f", "%.3f"]
A_RIGHT = [(-0.12, 2.15), (-0.12, 2.15), (-0.25, 4.6), (-0.3, 4.3), (-0.05, 0.62), (-0.03, 0.56)]
A_RTICKS = [[0, 1, 2], [0, 1, 2], [0, 2, 4], [0, 2, 4], [0, 0.25, 0.5], [0, 0.25, 0.5]]
A_RFMT = ["%d", "%d", "%d", "%d", "%.2f", "%.2f"]

B_LEFT = [(-1.12, 1.12), (-0.03, 1.06), (-1.12, 1.12), (-0.02, 0.47), (0.888, 1.112), (-0.005, 0.106), (-0.004, 0.08)]
B_LTICKS = [[-1, 0, 1], [0, 0.5, 1], [-1, 0, 1], [0, 0.2, 0.4], [0.9, 1.0, 1.1], [0, 0.05, 0.1], [0, 0.05]]
B_LFMT = ["%d", "%.1f", "%d", "%.1f", "%.1f", "%.2f", "%.2f"]
B_RIGHT = [(-0.06, 1.06), (-0.06, 1.06), (-0.25, 4.3), (-0.3, 4.1), (-0.012, 0.106), (-0.008, 0.106)]
B_RTICKS = [[0, 0.5, 1], [0, 0.5, 1], [0, 2, 4], [0, 2, 4], [0, 0.05, 0.1], [0, 0.05, 0.1]]
B_RFMT = ["%.1f", "%.1f", "%d", "%d", "%.2f", "%.2f"]

BLUE, RED, GRAY, REC = "#2b7bba", "#d62728", "#6e6e6e", "#4a72b0"
BG = "#eaeaf2"
FONT = "DejaVu Sans"
FW = 85
FH = 26
LEFT_B, RIGHT_B = 27, 14
TITLE_B = 15
KL_W = 10


def pick(series, c):
    return series[c] if isinstance(series[0], list) else series


def style_axis(ax, size="5px"):
    ax.axis_line_color = None
    ax.major_tick_out = 2
    ax.major_tick_in = 0
    ax.minor_tick_out = 0
    ax.minor_tick_in = 0
    ax.major_tick_line_color = "#333333"
    ax.major_label_text_font_size = size
    ax.major_label_text_font = FONT
    ax.major_label_text_color = "#333333"
    ax.major_label_standoff = 1
    ax.axis_label_standoff = 1
    ax.axis_label_text_font = FONT
    ax.axis_label_text_color = "#222222"


def build_panel(rows_data, rec, left, lticks, lfmt, right, rticks, rfmt):
    grid = []
    for r in range(7):
        frow = []
        for c in range(7):
            bl = LEFT_B if c == 0 else 2
            br = RIGHT_B if c == 6 else 2
            bt = TITLE_B if r == 0 else 1
            bb = 9 if r == 6 else 2
            p = figure(width=bl + FW + br, height=bt + FH + bb,
                       x_range=Range1d(0, 29), y_range=Range1d(*left[r]),
                       x_axis_location="below" if r == 6 else None,
                       y_axis_location="left" if c == 0 else None,
                       toolbar_location=None, output_backend="svg",
                       min_border_left=bl, min_border_right=br,
                       min_border_top=bt, min_border_bottom=bb)
            p.background_fill_color = BG
            p.border_fill_color = "white"
            p.outline_line_color = None
            p.xgrid.ticker = FixedTicker(ticks=XTICKS, minor_ticks=[])
            p.ygrid.ticker = FixedTicker(ticks=lticks[r], minor_ticks=[])
            p.grid.grid_line_color = "white"
            p.grid.grid_line_width = 1
            if r == 0:
                p.title.text = ITERS[c]
                p.title.align = "center"
                p.title.text_font = FONT
                p.title.text_font_size = "11px"
                p.title.text_font_style = "normal"
                p.title.text_color = "#222222"
                p.title.standoff = -6
            if r == 6:
                ax = p.xaxis[0]
                ax.ticker = FixedTicker(ticks=XTICKS, minor_ticks=[])
                style_axis(ax)
            if c == 0:
                ay = p.yaxis[0]
                ay.ticker = FixedTicker(ticks=lticks[r], minor_ticks=[])
                ay.formatter = PrintfTickFormatter(format=lfmt[r])
                style_axis(ay)
                ay.axis_label = ROW_LABELS[r]
                if r < 6:
                    ay.axis_label_text_font_size = "11px"
                    ay.axis_label_text_font_style = "italic"
                else:
                    ay.axis_label_text_font_size = "7.5px"
                    ay.axis_label_text_font_style = "normal"
                    ay.axis_label_standoff = 0
            if r < 6:
                blue_s, red_s, kl_s = rows_data[r]
                p.extra_y_ranges = {"kl": Range1d(*right[r])}
                b = pick(blue_s, c)
                rd = pick(red_s, c)
                k = pick(kl_s, c)
                p.line(X[:len(b)], b, line_color=BLUE, line_width=1.5)
                p.line(X[:len(rd)], rd, line_color=RED, line_width=1.5)
                p.line(X[:len(k)], k, line_color=GRAY, line_width=1.1,
                       line_dash="4 2", y_range_name="kl")
                if c == 6:
                    ar = LinearAxis(y_range_name="kl",
                                    ticker=FixedTicker(ticks=rticks[r], minor_ticks=[]),
                                    formatter=PrintfTickFormatter(format=rfmt[r]))
                    style_axis(ar)
                    p.add_layout(ar, "right")
            else:
                p.line(X[:len(rec[c])], rec[c], line_color=REC, line_width=1.3)
            frow.append(p)
        grid.append(frow)
    return gridplot(grid, toolbar_location=None)


def kl_labels():
    # vertical "KL div" labels, one per plotted row, centred on each row's frame
    tops = [TITLE_B] + [TITLE_B + FH + 2 + 1 + (r - 1) * (FH + 3) for r in range(1, 6)]
    total_h = TITLE_B + 7 * FH + 6 * 3 + 9
    parts = []
    for t in tops:
        parts.append(
            f"<div style=\"position:absolute;top:{t}px;left:0;width:{KL_W}px;height:{FH}px;"
            f"writing-mode:vertical-rl;transform:rotate(180deg);text-align:center;"
            f"font-family:'DejaVu Sans';font-size:8px;line-height:{KL_W}px;color:#222;white-space:nowrap;\">"
            f"{RIGHT_LABEL}</div>")
    html = f"<div style=\"position:relative;width:{KL_W}px;height:{total_h}px;\">" + "".join(parts) + "</div>"
    return Div(text=html, width=KL_W, height=total_h, margin=(0, 0, 0, 0))


A_ROWS = [(A1_BLUE, A1_RED, A1_KL), (A2_BLUE, A2_RED, A2_KL), (A3_BLUE, A3_RED, A3_KL),
          (A4_BLUE, A4_RED, A4_KL), (A5_BLUE, A5_RED, A5_KL), (A6_BLUE, A6_RED, A6_KL)]
B_ROWS = [(B1_BLUE, B1_RED, B1_KL), (B2_BLUE, B2_RED, B2_KL), (B3_BLUE, B3_RED, B3_KL),
          (B4_BLUE, B4_RED, B4_KL), (B5_BLUE, B5_RED, B5_KL), (B6_BLUE, B6_RED, B6_KL)]

gA = build_panel(A_ROWS, A7_REC, A_LEFT, A_LTICKS, A_LFMT, A_RIGHT, A_RTICKS, A_RFMT)
gB = build_panel(B_ROWS, B7_REC, B_LEFT, B_LTICKS, B_LFMT, B_RIGHT, B_RTICKS, B_RFMT)

TOTAL_W = LEFT_B + 7 * FW + 12 * 2 + RIGHT_B + KL_W
label_style = "font-family:'DejaVu Sans';font-weight:bold;font-size:11px;line-height:11px;color:#000;padding-left:4px;"
divA = Div(text=f"<div style=\"{label_style}padding-top:2px\">A</div>", width=TOTAL_W, height=19, margin=(0, 0, 0, 0))
divB = Div(text=f"<div style=\"{label_style}padding-top:26px\">B</div>", width=TOTAL_W, height=39, margin=(0, 0, 0, 0))

layout = column(divA, row(gA, kl_labels(), spacing=0), divB, row(gB, kl_labels(), spacing=0), spacing=0)

open("out.html", "w").write(file_html(layout, INLINE))
